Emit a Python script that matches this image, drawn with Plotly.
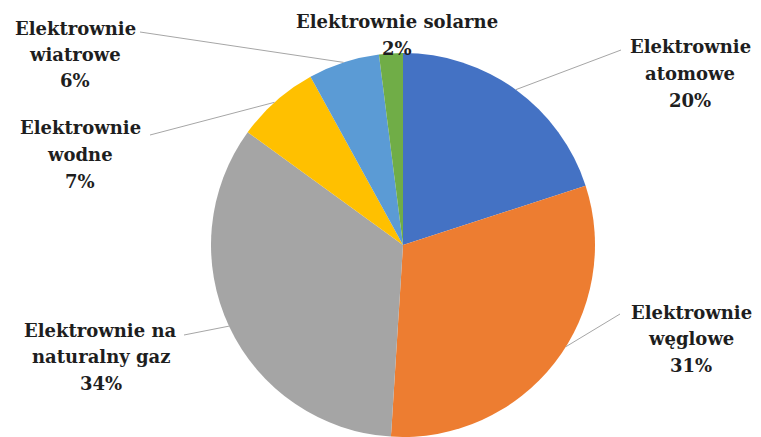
import math
import plotly.graph_objects as go

W, H = 761, 437

categories = ["Elektrownie atomowe", "Elektrownie węglowe", "Elektrownie na naturalny gaz",
              "Elektrownie wodne", "Elektrownie wiatrowe", "Elektrownie solarne"]
values = [20, 31, 34, 7, 6, 2]
label_lines = [["Elektrownie", "atomowe", "20%"],
               ["Elektrownie", "węglowe", "31%"],
               ["Elektrownie na", "naturalny gaz", "34%"],
               ["Elektrownie", "wodne", "7%"],
               ["Elektrownie", "wiatrowe", "6%"],
               ["Elektrownie solarne", "2%"]]
colors = ["#4472C4", "#ED7D31", "#A5A5A5", "#FFC000", "#5B9BD5", "#70AD47"]

# layout (pixels)
cx, cy, R = 403, 245, 192
label_pos = [(690, 47), (691, 312), (101, 330), (80, 128), (75, 28), (397, 22)]
line_gap = 26.5
leader_start = [(621, 50), (620, 314), (184, 335), (150, 135), (140, 32), None]
leader_angle = [36, 122, 245, 318, 342, None]

def px(x):
    return x / W

def py(y):
    return 1 - y / H

fig = go.Figure(go.Pie(
    labels=categories, values=values, sort=False, direction="clockwise", rotation=0,
    marker=dict(colors=colors, line=dict(color="white", width=0)),
    textinfo="none", hoverinfo="label+percent",
    domain=dict(x=[px(cx - R), px(cx + R)], y=[py(cy + R), py(cy - R)]),
))

annotations = []
shapes = []
for i, lines in enumerate(label_lines):
    lx, ly = label_pos[i]
    for j, t in enumerate(lines):
        annotations.append(dict(
            x=px(lx), y=py(ly + j * line_gap), xref="paper", yref="paper",
            text=t, showarrow=False, xanchor="center", yanchor="middle",
            font=dict(family="DejaVu Serif", size=18, color="#1e1e1e", weight="bold"),
        ))
    if leader_start[i] is not None:
        a = math.radians(leader_angle[i])
        ex = cx + R * math.sin(a)
        ey = cy - R * math.cos(a)
        sx, sy = leader_start[i]
        shapes.append(dict(type="line", xref="paper", yref="paper",
                           x0=px(sx), y0=py(sy), x1=px(ex), y1=py(ey),
                           line=dict(color="#A6A6A6", width=1)))

fig.update_layout(
    width=W, height=H, margin=dict(l=0, r=0, t=0, b=0),
    paper_bgcolor="white", plot_bgcolor="white", showlegend=False,
    annotations=annotations, shapes=shapes,
)
fig.write_html("out.html")
